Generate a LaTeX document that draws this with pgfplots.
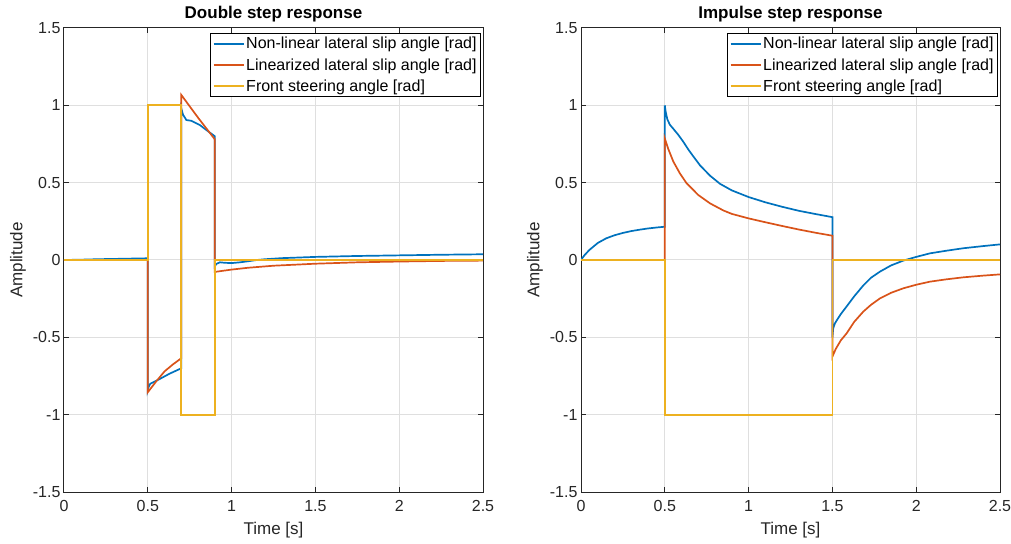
\documentclass[border=0pt]{standalone}
\usepackage{fontspec}
\setmainfont{Liberation Sans}
\usepackage{pgfplots}
\pgfplotsset{compat=1.18}
\definecolor{mblue}{RGB}{0,114,189}
\definecolor{morange}{RGB}{217,83,25}
\definecolor{myellow}{RGB}{237,177,32}
\definecolor{mgrid}{RGB}{223,223,223}
\definecolor{maxis}{RGB}{38,38,38}

\pgfplotsset{
  ln/.style={line width=1.7pt},
  matstyle/.style={
    scale only axis, width=419pt, height=464pt,
    xmin=0, xmax=2.5, ymin=-1.5, ymax=1.5,
    xtick={0,0.5,1,1.5,2,2.5}, ytick={-1.5,-1,-0.5,0,0.5,1,1.5},
    grid=major, major grid style={mgrid, line width=1pt},
    axis line style={maxis, line width=1pt},
    tick style={maxis, line width=1pt}, tick align=inside, major tick length=5pt,
    tick label style={font=\fontsize{16}{18}\selectfont, text=maxis},
    xticklabel style={yshift=-5pt},
    xlabel={Time [s]}, ylabel={Amplitude},
    label style={font=\fontsize{17}{19}\selectfont, text=maxis},
    xlabel style={at={(axis description cs:0.5,0)}, anchor=center, yshift=-38pt},
    ylabel style={at={(axis description cs:0,0.5)}, anchor=center, yshift=46pt},
    title style={font=\bfseries\fontsize{17}{19}\selectfont, yshift=-4pt},
    legend style={at={(1,1)}, anchor=north east, xshift=-2pt, yshift=-5pt,
      draw=black, line width=0.8pt, fill=white,
      font=\fontsize{16}{18}\selectfont, inner sep=2.5pt, row sep=5pt,
      nodes={inner sep=1.5pt}},
    legend cell align=left,
    legend image code/.code={\draw[#1, line width=2pt] (0pt,0pt) -- (30pt,0pt);},
    /pgf/number format/.cd, fixed, assume math mode=true,
  }
}

\begin{document}
\begin{tikzpicture}
\begin{axis}[matstyle, name=L, title={Double step response}]
\addplot[mblue, ln] coordinates {
(0,0) (0.1,0.002) (0.2,0.005) (0.3,0.007) (0.4,0.009) (0.5,0.011)
(0.5,-0.84) (0.505,-0.82) (0.515,-0.80) (0.57,-0.77) (0.63,-0.735) (0.7,-0.70)
(0.7,0.98) (0.71,0.94) (0.73,0.905) (0.76,0.90) (0.81,0.873) (0.85,0.84) (0.89,0.808) (0.9,0.80)
(0.9,-0.04) (0.91,-0.025) (0.93,-0.015) (0.96,-0.018) (1.0,-0.02) (1.05,-0.015) (1.1,-0.008)
(1.15,0) (1.2,0.005) (1.3,0.012) (1.5,0.02) (1.75,0.026) (2,0.03) (2.25,0.034) (2.5,0.037)
};
\addplot[morange, ln] coordinates {
(0,0) (0.5,0)
(0.5,-0.855) (0.55,-0.785) (0.6,-0.72) (0.65,-0.675) (0.7,-0.635)
(0.7,1.067) (0.8,0.92) (0.9,0.78)
(0.9,-0.077) (1.0,-0.062) (1.1,-0.05) (1.25,-0.037) (1.5,-0.024) (1.75,-0.015)
(2,-0.01) (2.25,-0.006) (2.5,-0.004)
};
\addplot[myellow, ln] coordinates {
(0,0) (0.5,0) (0.5,1) (0.7,1) (0.7,-1) (0.9,-1) (0.9,0) (2.5,0)
};
\legend{Non-linear lateral slip angle [rad], Linearized lateral slip angle [rad], Front steering angle [rad]}
\end{axis}

\begin{axis}[matstyle, name=R, at={(517pt,0)}, title={Impulse step response}]
\addplot[mblue, ln] coordinates {
(0,0) (0.02,0.03) (0.05,0.065) (0.1,0.11) (0.15,0.14) (0.2,0.16) (0.25,0.175)
(0.3,0.187) (0.35,0.196) (0.4,0.204) (0.45,0.21) (0.5,0.215)
(0.5,1.0) (0.505,0.96) (0.515,0.91) (0.53,0.875) (0.551,0.848) (0.58,0.81) (0.61,0.765)
(0.64,0.715) (0.67,0.67) (0.71,0.612) (0.77,0.545) (0.83,0.492) (0.9,0.45) (1.0,0.407)
(1.1,0.373) (1.2,0.344) (1.3,0.318) (1.4,0.297) (1.5,0.277)
(1.5,-0.50) (1.505,-0.44) (1.515,-0.41) (1.526,-0.39) (1.55,-0.35) (1.585,-0.30)
(1.63,-0.235) (1.684,-0.165) (1.73,-0.115) (1.784,-0.075) (1.85,-0.035) (1.923,-0.004)
(2.0,0.02) (2.082,0.043) (2.18,0.06) (2.281,0.076) (2.4,0.09) (2.5,0.101)
};
\addplot[morange, ln] coordinates {
(0,0) (0.5,0)
(0.5,0.786) (0.52,0.72) (0.551,0.636) (0.59,0.56) (0.63,0.496) (0.7,0.42) (0.77,0.366)
(0.85,0.32) (0.9,0.298) (1.0,0.269) (1.1,0.244) (1.2,0.22) (1.3,0.197) (1.4,0.176) (1.5,0.157)
(1.5,-0.625) (1.52,-0.575) (1.55,-0.52) (1.585,-0.474) (1.63,-0.40) (1.684,-0.334)
(1.73,-0.29) (1.784,-0.248) (1.85,-0.212) (1.923,-0.183) (2.0,-0.16) (2.082,-0.14)
(2.18,-0.125) (2.281,-0.112) (2.4,-0.101) (2.5,-0.093)
};
\addplot[myellow, ln] coordinates {
(0,0) (0.5,0) (0.5,-1) (1.5,-1) (1.5,0) (2.5,0)
};
\legend{Non-linear lateral slip angle [rad], Linearized lateral slip angle [rad], Front steering angle [rad]}
\end{axis}

\pgfresetboundingbox
\useasboundingbox ([xshift=-64pt,yshift=-51pt]L.south west) rectangle ([xshift=11pt,yshift=28pt]R.north east);
\end{tikzpicture}
\end{document}
